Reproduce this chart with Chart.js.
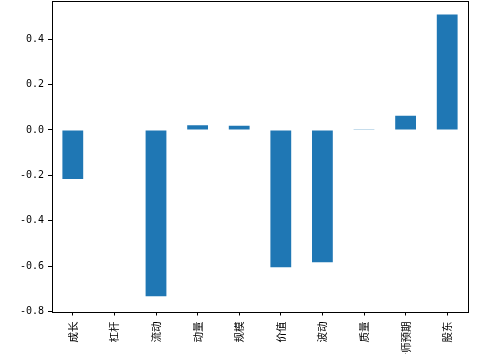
<!DOCTYPE html>
<html>
<head>
<meta charset="utf-8">
<script src="https://cdn.jsdelivr.net/npm/chart.js@4/dist/chart.umd.min.js"></script>
<style>
  html, body { margin: 0; padding: 0; background: #fff; }
  #wrap { width: 500px; height: 354px; }
</style>
</head>
<body>
<div id="wrap"><canvas id="chart"></canvas></div>
<script>
// factor names and values
var factors = ['成长', '杠杆', '流动', '动量', '规模', '价值', '波动', '质量', '分析师预期', '股东'];
var values = [-0.216, 0.0, -0.733, 0.021, 0.018, -0.605, -0.583, 0.003, 0.062, 0.508];
var yTicks = [-0.8, -0.6, -0.4, -0.2, 0.0, 0.2, 0.4];

var cjkFont = "'Noto Sans CJK SC', sans-serif";
var numFont = "'DejaVu Sans Mono', monospace";

// box around the plot area
var frame = {
  id: 'frame',
  afterDraw: function(chart) {
    var a = chart.chartArea, c = chart.ctx;
    c.save();
    c.strokeStyle = '#000';
    c.lineWidth = 1;
    c.strokeRect(Math.round(a.left) + 0.5, Math.round(a.top) + 0.5,
                 Math.round(a.right - a.left), Math.round(a.bottom - a.top));
    c.restore();
  }
};

var ctx = document.getElementById('chart').getContext('2d');
var chart = new Chart(ctx, {
  type: 'bar',
  data: {
    labels: factors,
    datasets: [{
      data: values,
      backgroundColor: '#1f77b4',
      borderWidth: 0,
      barPercentage: 0.5,
      categoryPercentage: 1.0
    }]
  },
  options: {
    responsive: true,
    maintainAspectRatio: false,
    animation: false,
    layout: { padding: { top: 1, right: 32, left: 0, bottom: 0 } },
    plugins: {
      legend: { display: false },
      tooltip: { enabled: false }
    },
    scales: {
      x: {
        offset: true,
        grid: { offset: false, drawOnChartArea: false, drawTicks: true, tickLength: 4, color: '#000', tickColor: '#000' },
        border: { display: false },
        ticks: {
          color: '#000',
          font: { family: cjkFont, size: 10.5 },
          minRotation: 90,
          maxRotation: 90,
          autoSkip: false,
          padding: 6
        },
        afterFit: function(s) {
          s.height = 42.5;
          s.paddingLeft = 0; s.paddingRight = 0;
        }
      },
      y: {
        min: -0.8,
        max: 0.568,
        grid: { drawOnChartArea: false, drawTicks: true, tickLength: 4, color: '#000', tickColor: '#000' },
        border: { display: false },
        afterBuildTicks: function(s) {
          s.ticks = yTicks.map(function(v) { return { value: v }; });
        },
        ticks: {
          color: '#000',
          font: { family: numFont, size: 10 },
          padding: 4,
          callback: function(v) { return v.toFixed(1); }
        },
        afterFit: function(s) {
          s.width = 52;
          s.paddingTop = 0; s.paddingBottom = 0;
        }
      }
    }
  },
  plugins: [frame]
});
</script>
</body>
</html>
